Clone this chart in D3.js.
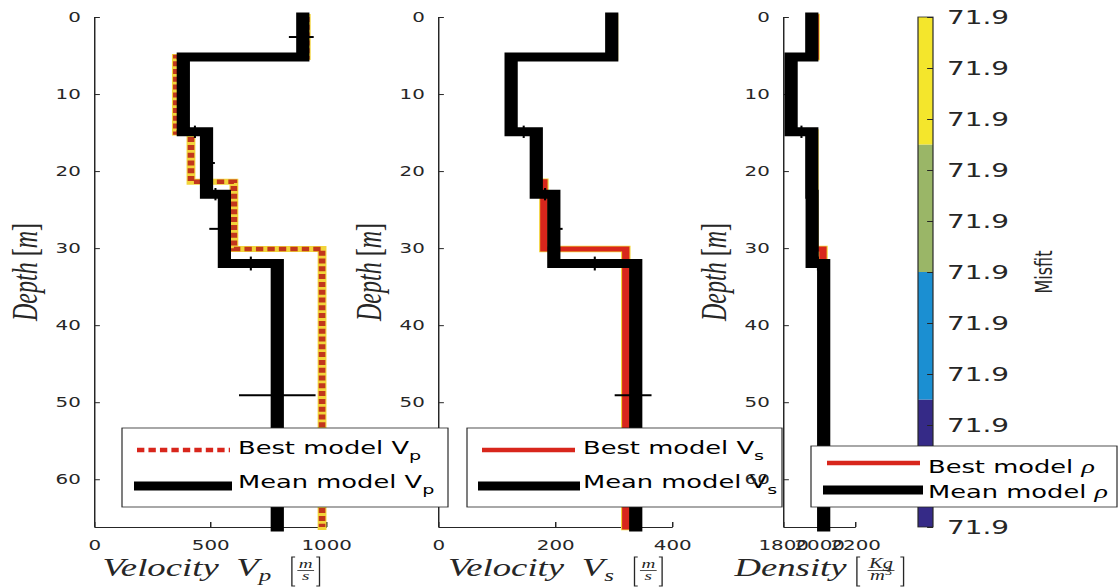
<!DOCTYPE html>
<html>
<head>
<meta charset="utf-8">
<title>Layered model: Vp, Vs and density</title>
<script src="https://cdn.jsdelivr.net/npm/d3@7/dist/d3.min.js"></script>
<style>
  html, body { margin: 0; padding: 0; background: #ffffff; }
  svg { display: block; }
</style>
</head>
<body>
<svg id="fig" width="1118" height="587"></svg>
<script>
// ---- model data (depth in m, velocities in m/s, density in kg/m^3) ----
const depthMax = 66.2;
const meanTops = [0, 5.2, 14.9, 23.0, 32.0];
const bestTops = [0, 5.2, 15.0, 21.4, 30.1];

const meanVp  = [900, 385, 485, 562, 790];
const bestVp  = [915, 355, 418, 603, 983];
const meanVs  = [297, 125, 168, 198, 338];
const bestVs  = [300, 123, 168, 181, 321];
const meanRho = [1960, 1845, 1960, 1962, 2026];
const bestRho = [1978, 1840, 1972, 1972, 2022];

// spread of the mean model at each layer's mid-depth (below / above the mean)
const vpErrLo  = [60, 20, 25, 65, 165];
const vpErrHi  = [47, 20, 36, 28, 165];
const vsErrLo  = [6, 6, 6, 10, 36];
const vsErrHi  = [6, 6, 6, 15, 27];
const rhoErrLo = [10, 10, 10, 10, 20];
const rhoErrHi = [10, 10, 10, 10, 20];
// spread of the interface depths of the mean model
const depthErr = [0.3, 0.8, 0.8, 0.9];

// axis ticks
const depthTicks = [0, 10, 20, 30, 40, 50, 60];
const vpTicks  = [0, 500, 1000];
const vsTicks  = [0, 200, 400];
const rhoTicks = [1800, 2000, 2200];

// misfit colour bar
const misfitRange  = [71.900, 71.940];
const misfitBands  = [71.900, 71.910, 71.920, 71.930, 71.940];
const misfitColors = ["#352a87", "#1b8fd2", "#9ab667", "#f4e62c"];
const misfitTicks  = [71.900, 71.904, 71.908, 71.912, 71.916, 71.920, 71.924, 71.928, 71.932, 71.936, 71.940];

// ---- figure setup ----
const SX = 1.47;                  // horizontal stretch of the whole figure
const ix = px => px / SX;         // horizontal page position -> drawing units
const ink = "#262626";
const sans = "'DejaVu Sans', 'Liberation Sans', sans-serif";
const serif = "'Liberation Serif', 'Times New Roman', serif";
const bestRed = "#d8261c";
const dottedRed = "#c2361c";
const haloYellow = "#f2d43a";

const svg = d3.select("#fig");
svg.append("rect").attr("width", 1118).attr("height", 587).attr("fill", "#ffffff");
const root = svg.append("g").attr("transform", `scale(${SX},1)`);

const y = d3.scaleLinear().domain([0, depthMax]).range([17, 527]);

function stepPoints(tops, vals) {
  const pts = [];
  vals.forEach((v, i) => {
    const bottom = i < vals.length - 1 ? tops[i + 1] : depthMax;
    pts.push([v, tops[i]], [v, bottom]);
  });
  return pts;
}

function styleAxis(g, size) {
  g.attr("font-family", sans).attr("font-size", size);
  g.selectAll(".domain").attr("stroke", ink).attr("stroke-width", 1);
  g.selectAll(".tick line").attr("stroke", ink).attr("stroke-width", 1);
  g.selectAll(".tick text").attr("fill", ink);
}

function depthLabel(xPx) {
  const t = root.append("text")
    .attr("transform", `translate(${ix(xPx)},272) rotate(-90)`)
    .attr("text-anchor", "middle")
    .attr("font-family", serif).attr("font-size", 24).attr("fill", ink);
  t.append("tspan").attr("font-style", "italic").text("Depth");
  t.append("tspan").text("\u00a0[");
  t.append("tspan").attr("font-style", "italic").text("m");
  t.append("tspan").text("]");
}

// builds a typeset label from pieces: words, subscripts, brackets and fractions
function mathLabel(cxPx, baseY, items) {
  const g = root.append("g").attr("fill", ink);
  let x = 0;
  const piece = (parts, size, yPos) => {
    const t = g.append("text").attr("y", yPos).attr("font-family", serif)
      .attr("font-size", size).attr("font-style", "italic");
    parts.forEach(p => {
      const s = t.append("tspan").text(p.t);
      if (p.sup) s.attr("font-size", size * 0.7).attr("dy", -5).attr("font-style", "normal");
    });
    return t;
  };
  for (const it of items) {
    if (it.gap) { x += it.gap; continue; }
    if (it.text !== undefined) {
      const t = g.append("text").attr("x", x).attr("y", baseY + (it.dy || 0))
        .attr("font-family", serif).attr("font-style", "italic")
        .attr("font-size", it.size || 25).text(it.text);
      x += t.node().getComputedTextLength();
      continue;
    }
    if (it.bracket) {
      const top = baseY - 19, bot = baseY + 10, w = 2.2;
      const d = it.bracket === "["
        ? `M${x + w},${top}H${x}V${bot}H${x + w}`
        : `M${x},${top}H${x + w}V${bot}H${x}`;
      g.append("path").attr("d", d).attr("fill", "none")
        .attr("stroke", ink).attr("stroke-width", 0.9);
      x += w;
      continue;
    }
    if (it.num) {
      const fs = it.size || 13;
      const n = piece(it.num, fs, baseY - 8);
      const dn = piece(it.den, fs, baseY + 4);
      const wn = n.node().getComputedTextLength();
      const wd = dn.node().getComputedTextLength();
      const bw = Math.max(wn, wd) + 2;
      n.attr("x", x + (bw - wn) / 2);
      dn.attr("x", x + (bw - wd) / 2);
      g.append("line").attr("x1", x).attr("x2", x + bw)
        .attr("y1", baseY - 5.5).attr("y2", baseY - 5.5)
        .attr("stroke", ink).attr("stroke-width", 0.8);
      x += bw;
    }
  }
  g.attr("transform", `translate(${ix(cxPx) - x / 2},0)`);
}

function drawPanel(p) {
  const g = root.append("g");
  const x = d3.scaleLinear().domain(p.domain).range([ix(p.left), ix(p.right)]);

  const ax = g.append("g").attr("transform", `translate(0,${y.range()[1]})`)
    .call(d3.axisBottom(x).tickValues(p.ticks).tickFormat(d3.format("d"))
      .tickSizeInner(-5).tickSizeOuter(0).tickPadding(13.4));
  styleAxis(ax, 13.5);
  const ay = g.append("g").attr("transform", `translate(${x.range()[0]},0)`)
    .call(d3.axisLeft(y).tickValues(depthTicks).tickFormat(d3.format("d"))
      .tickSizeInner(-4).tickSizeOuter(0).tickPadding(9));
  styleAxis(ay, 13.5);

  const line = d3.line().x(d => x(d[0])).y(d => y(d[1]));
  const bestPts = stepPoints(bestTops, p.best);
  const meanPts = stepPoints(meanTops, p.mean);

  // best model, over a yellow trace
  g.append("path").attr("d", line(bestPts)).attr("fill", "none")
    .attr("stroke", haloYellow).attr("stroke-width", p.dashed ? 6 : 6.5)
    .attr("stroke-linecap", "square");
  const best = g.append("path").attr("d", line(bestPts)).attr("fill", "none")
    .attr("stroke", p.dashed ? dottedRed : bestRed).attr("stroke-width", p.dashed ? 4.5 : 5);
  if (p.dashed) best.attr("stroke-dasharray", "5,2.8");
  else best.attr("stroke-linecap", "square");

  // mean model
  g.append("path").attr("d", line(meanPts)).attr("fill", "none")
    .attr("stroke", "#000").attr("stroke-width", 9)
    .attr("stroke-linecap", "square").attr("stroke-linejoin", "miter");

  // spread of the layer values at mid-depth
  p.mean.forEach((v, i) => {
    const bottom = i < p.mean.length - 1 ? meanTops[i + 1] : depthMax;
    const mid = (meanTops[i] + bottom) / 2;
    g.append("line")
      .attr("x1", x(v - p.errLo[i])).attr("x2", x(v + p.errHi[i]))
      .attr("y1", y(mid)).attr("y2", y(mid))
      .attr("stroke", "#000").attr("stroke-width", 2);
  });
  // spread of the interface depths
  depthErr.forEach((e, i) => {
    const d = meanTops[i + 1];
    const xm = x((p.mean[i] + p.mean[i + 1]) / 2);
    g.append("line").attr("x1", xm).attr("x2", xm)
      .attr("y1", y(d - e)).attr("y2", y(d + e))
      .attr("stroke", "#000").attr("stroke-width", 1.4);
  });

  depthLabel(p.left - 57);
  mathLabel((p.left + p.right) / 2 + p.labelShift, 576, p.xLabel);
}

function drawLegend(box, entries) {
  const g = root.append("g");
  g.append("rect")
    .attr("x", ix(box.x0)).attr("y", box.y0)
    .attr("width", ix(box.x1 - box.x0)).attr("height", box.y1 - box.y0)
    .attr("fill", "#ffffff").attr("stroke", ink).attr("stroke-width", 0.8);
  entries.forEach(e => {
    const l = g.append("line")
      .attr("x1", ix(e.l0)).attr("x2", ix(e.l1)).attr("y1", e.y).attr("y2", e.y)
      .attr("stroke", e.color).attr("stroke-width", e.width);
    if (e.dash) l.attr("stroke-dasharray", e.dash);
    const t = g.append("text").attr("x", ix(box.textX)).attr("y", e.base)
      .attr("font-family", sans).attr("font-size", 17.5).attr("fill", "#000");
    t.append("tspan").text(e.label);
    if (e.sub) t.append("tspan").attr("font-size", 13).attr("dy", 6).text(e.sub);
    if (e.greek) t.append("tspan").attr("font-family", serif).attr("font-style", "italic")
      .attr("font-size", 19).text(e.greek);
  });
}

const vLabel = sub => [
  { text: "Velocity" }, { gap: 12 }, { text: "V" }, { text: sub, size: 17, dy: 5 },
  { gap: 14 }, { bracket: "[" }, { gap: 1.5 },
  { num: [{ t: "m" }], den: [{ t: "s" }] },
  { gap: 1.5 }, { bracket: "]" }
];

// P-wave velocity
drawPanel({ left: 94, right: 326, domain: [0, 1000], ticks: vpTicks,
  mean: meanVp, best: bestVp, errLo: vpErrLo, errHi: vpErrHi, dashed: true,
  xLabel: vLabel("p"), labelShift: 1 });
// S-wave velocity
drawPanel({ left: 438, right: 672, domain: [0, 400], ticks: vsTicks,
  mean: meanVs, best: bestVs, errLo: vsErrLo, errHi: vsErrHi, dashed: false,
  xLabel: vLabel("s"), labelShift: 0 });

drawLegend({ x0: 122, x1: 448, y0: 428, y1: 507, textX: 238 }, [
  { l0: 137, l1: 230, y: 450, color: bestRed, width: 4.5, dash: "5,2.8", base: 454.5, label: "Best model V", sub: "p" },
  { l0: 134, l1: 232, y: 486, color: "#000", width: 9, base: 488.5, label: "Mean model V", sub: "p" }
]);
drawLegend({ x0: 467, x1: 782, y0: 428, y1: 507, textX: 583 }, [
  { l0: 482, l1: 575, y: 450, color: bestRed, width: 4.5, base: 454.5, label: "Best model V", sub: "s" },
  { l0: 478, l1: 580, y: 486, color: "#000", width: 9, base: 488.5, label: "Mean model V", sub: "s" }
]);

// density
drawPanel({ left: 783, right: 855, domain: [1800, 2200], ticks: rhoTicks,
  mean: meanRho, best: bestRho, errLo: rhoErrLo, errHi: rhoErrHi, dashed: false,
  xLabel: [
    { text: "Density" }, { gap: 7 }, { bracket: "[" }, { gap: 5 },
    { num: [{ t: "Kg" }], den: [{ t: "m" }, { t: "3", sup: true }], size: 14 },
    { gap: 4 }, { bracket: "]" }
  ], labelShift: 0 });

// misfit colour bar
const cy = d3.scaleLinear().domain(misfitRange).range([527, 17]);
const cbar = root.append("g");
misfitColors.forEach((c, i) => {
  cbar.append("rect")
    .attr("x", ix(918)).attr("width", ix(15))
    .attr("y", cy(misfitBands[i + 1])).attr("height", cy(misfitBands[i]) - cy(misfitBands[i + 1]))
    .attr("fill", c);
});
cbar.append("rect").attr("x", ix(918)).attr("width", ix(15))
  .attr("y", cy(misfitRange[1])).attr("height", cy(misfitRange[0]) - cy(misfitRange[1]))
  .attr("fill", "none").attr("stroke", ink).attr("stroke-width", 0.8);
const cax = cbar.append("g").attr("transform", `translate(${ix(933)},0)`)
  .call(d3.axisRight(cy).tickValues(misfitTicks).tickFormat(d3.format(".1f"))
    .tickSizeInner(-4).tickSizeOuter(0).tickPadding(9.5));
styleAxis(cax, 19);
cax.select(".domain").remove();
root.append("text")
  .attr("transform", `translate(${ix(1052)},272) rotate(-90)`)
  .attr("text-anchor", "middle").attr("font-family", sans).attr("font-size", 16)
  .attr("fill", ink).text("Misfit");

drawLegend({ x0: 811, x1: 1117, y0: 446, y1: 507, textX: 928 }, [
  { l0: 827, l1: 920, y: 463, color: bestRed, width: 4.5, base: 473.5, label: "Best model ", greek: "\u03c1" },
  { l0: 823, l1: 923, y: 490, color: "#000", width: 9, base: 498, label: "Mean model ", greek: "\u03c1" }
]);
</script>
</body>
</html>
